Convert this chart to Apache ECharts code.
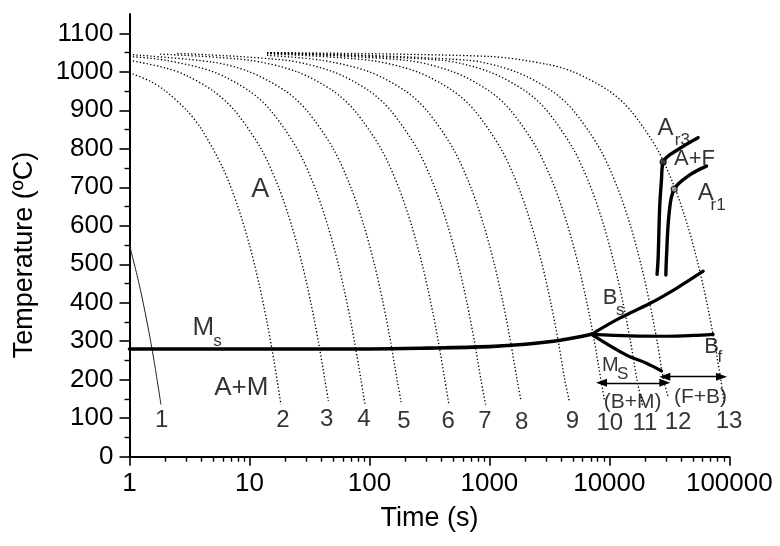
<!DOCTYPE html>
<html>
<head>
<meta charset="utf-8">
<script src="https://cdn.jsdelivr.net/npm/echarts@6/dist/echarts.min.js"></script>
<style>
html,body{margin:0;padding:0;background:#fff;}
#main{width:780px;height:546px;}
</style>
</head>
<body>
<div id="main"></div>
<script>
// ---------- data ----------
const xMajor = [1, 10, 100, 1000, 10000, 100000];
const xMinor = [2,3,4,5,6,7,8,9, 20,30,40,50,60,70,80,90, 200,300,400,500,600,700,800,900,
                2000,3000,4000,5000,6000,7000,8000,9000, 20000,30000,40000,50000,60000,70000,80000,90000];
const yMajor = [0,100,200,300,400,500,600,700,800,900,1000,1100];
const yMinor = [50,150,250,350,450,550,650,750,850,950,1050];

// cooling curves [time s, temperature °C]
const curve1  = [[1,550],[1.2,450],[1.4,350],[1.6,250],[1.83,135]];
const curve2  = [[1,998],[1.5,975],[2,950],[3,900],[4,850],[6,750],[8,650],[10,550],[12,450],[14,350],[16,250],[18.3,135]];
const curve3  = [[1,1030],[2,1010],[3,990],[5,950],[7.5,900],[12.5,800],[17.5,700],[22.5,600],[27.5,500],[32.5,400],[37.5,300],[42.5,200],[45.5,145]];
const curve4  = [[1,1040],[2,1030],[5,1000],[10,950],[15,900],[25,800],[35,700],[45,600],[55,500],[65,400],[75,300],[85,200],[92,135]];
const curve5  = [[1,1045],[5,1025],[10,1000],[20,950],[30,900],[50,800],[70,700],[90,600],[110,500],[130,400],[150,300],[170,200],[184,142]];
const curve6  = [[1.8,1046],[10,1030],[25,1000],[50,950],[75,900],[125,800],[175,700],[225,600],[275,500],[325,400],[375,300],[425,200],[458,139]];
const curve7  = [[2.5,1048],[20,1030],[50,1000],[100,950],[150,900],[250,800],[350,700],[450,600],[550,500],[650,400],[750,300],[850,200],[930,135]];
const curve8  = [[14,1043],[40,1030],[100,1000],[200,950],[300,900],[500,800],[700,700],[900,600],[1100,500],[1300,400],[1500,300],[1700,200],[1840,144]];
const curve9  = [[14,1047],[100,1030],[250,1000],[500,950],[750,900],[1250,800],[1750,700],[2250,600],[2750,500],[3250,400],[3750,300],[4250,200],[4650,144]];
const curve10 = [[14,1049],[200,1030],[500,1000],[1000,950],[1500,900],[2500,800],[3500,700],[4500,600],[5500,500],[6500,400],[7500,300],[8500,200],[9100,148]];
const curve11 = [[14,1049],[400,1030],[1000,1000],[2000,950],[3000,900],[5000,800],[7000,700],[9000,600],[11000,500],[13000,400],[15000,300],[17000,200],[19000,130]];
const curve12 = [[14,1050],[667,1030],[1667,1000],[3333,950],[5000,900],[8333,800],[11667,700],[15000,600],[18333,500],[21667,400],[25000,300],[28333,200],[30800,157]];
const curve13 = [[14,1050],[1000,1040],[3000,1020],[5000,1000],[10000,950],[15000,900],[25000,800],[35000,700],[45000,600],[55000,500],[65000,400],[75000,300],[85000,200],[90500,139]];

// transformation lines
const msUpper = [[1,280],[100,280],[300,282],[1000,286],[2000,292],[4000,303],[7100,318]];
const bsLine  = [[7100,318],[12200,360],[21700,398],[36000,437],[60600,482]];
const bfLine  = [[7100,318],[15000,314],[30000,313],[50000,315],[73300,318]];
const msLower = [[7100,318],[13900,264],[20400,243],[27200,223]];
const ar3Line = [[25000,474],[25500,515],[26300,650],[27200,719],[28100,766],[38700,801],[54900,829]];
const ar1Line = [[29600,472],[29900,515],[31500,632],[34700,695],[46800,732],[64600,755]];
const ar3Dot  = [[28100,766]];
const ar1Dot  = [[34700,695]];

// double arrows
const arrowBM = [[8600,192],[29000,192]];
const arrowFB = [[29000,208],[86100,208]];

// text labels [text, time, temperature]
const curveLabels = [['1',1.85,95],['2',19.0,95],['3',44,98],['4',90,98],['5',194,91],['6',454,91],['7',917,91],
                     ['8',1855,88],['9',4935,93],['10',10090,87],['11',19770,87],['12',37440,88],['13',99600,91]];
const labelsXL = [['A',12.3,694]];
const labelsL  = [['M',4.12,336],['A+M',8.55,178]];
const labelsM  = [['A',29450,853],['A',63500,684]];
const labelsS  = [['A+F',51300,773],['B',10160,412],['B',71100,284]];
const labelsP  = [['(B+M)',15600,142],['(F+B)',57600,154]];
const labelsMs = [['M',10190,238]];
const labelsSub = [['s',5.42,299],['r3',40600,821],['r1',80700,654],['s',12300,380],['f',83300,259],['S',12900,214]];

// ---------- chart ----------
const FONT = '"Liberation Sans", Arial, Helvetica, sans-serif';
const chart = echarts.init(document.getElementById('main'), null, {renderer: 'canvas'});

function cooling(data, solid) {
  return {
    type: 'line', data: data, symbol: 'none', smooth: 0.3, silent: true, z: 2,
    lineStyle: solid ? {color: '#222', width: 1, type: 'solid'} : {color: '#000', width: 1.35, type: [1.3, 2.2]}
  };
}
function thick(data, w) {
  return {type: 'line', data: data, symbol: 'none', smooth: 0.35, silent: true, z: 4,
          lineStyle: {color: '#000', width: w, cap: 'round'}};
}
function texts(list, size) {
  return {
    type: 'scatter', symbolSize: 0, silent: true, z: 6,
    data: list.map(d => ({name: d[0], value: [d[1], d[2]]})),
    label: {show: true, position: 'inside', formatter: p => p.name,
            fontSize: size, color: '#000', fontFamily: FONT}
  };
}
function arrow(pts) {
  return {
    type: 'line', data: [], silent: true, z: 5,
    markLine: {
      silent: true, animation: false,
      symbol: ['triangle', 'triangle'], symbolSize: [8, 11],
      label: {show: false},
      lineStyle: {color: '#000', width: 1.3, type: 'solid'},
      data: [[{coord: pts[0]}, {coord: pts[1]}]]
    }
  };
}

const axisCommon = {
  splitLine: {show: false}, axisPointer: {show: false}
};

chart.setOption({
  animation: false,
  backgroundColor: '#fff',
  grid: {left: 129.5, right: 50.7, top: 14.1, bottom: 89.3, containLabel: false},
  xAxis: [
    Object.assign({
      type: 'log', logBase: 10, min: 1, max: 100000, position: 'bottom',
      axisLine: {show: true, lineStyle: {color: '#000', width: 2}},
      axisTick: {show: true, customValues: xMajor, length: 9, lineStyle: {color: '#000', width: 1.6}},
      axisLabel: {customValues: xMajor, formatter: v => String(v), fontSize: 26, color: '#000',
                  margin: 14, fontFamily: FONT},
      name: 'Time (s)', nameLocation: 'middle', nameGap: 48,
      nameTextStyle: {fontSize: 27, color: '#000', fontFamily: FONT}
    }, axisCommon),
    Object.assign({
      type: 'log', logBase: 10, min: 1, max: 100000, position: 'bottom',
      axisLine: {show: false},
      axisTick: {show: true, customValues: xMinor, length: 5, lineStyle: {color: '#000', width: 1.4}},
      axisLabel: {show: false}
    }, axisCommon)
  ],
  yAxis: [
    Object.assign({
      type: 'value', min: 0, max: 1150, position: 'left',
      axisLine: {show: true, lineStyle: {color: '#000', width: 2}},
      axisTick: {show: true, customValues: yMajor, length: 10, lineStyle: {color: '#000', width: 1.6}},
      axisLabel: {customValues: yMajor, formatter: v => String(v), fontSize: 26, color: '#000',
                  margin: 16, fontFamily: FONT}
    }, axisCommon),
    Object.assign({
      type: 'value', min: 0, max: 1150, position: 'left',
      axisLine: {show: false},
      axisTick: {show: true, customValues: yMinor, length: 5, lineStyle: {color: '#000', width: 1.4}},
      axisLabel: {show: false}
    }, axisCommon)
  ],
  graphic: [{
    type: 'text', x: 25, y: 255, rotation: Math.PI / 2, silent: true,
    style: {text: 'Temperature (ºC)', fontSize: 27, fontFamily: FONT, fill: '#000',
            align: 'center', verticalAlign: 'middle'}
  }],
  series: [
    cooling(curve1, true), cooling(curve2), cooling(curve3), cooling(curve4), cooling(curve5),
    cooling(curve6), cooling(curve7), cooling(curve8), cooling(curve9), cooling(curve10),
    cooling(curve11), cooling(curve12), cooling(curve13),
    thick(msUpper, 3.6), thick(bsLine, 3.2), thick(bfLine, 3.2), thick(msLower, 3.2),
    thick(ar3Line, 3.4), thick(ar1Line, 3.4),
    {type: 'scatter', data: ar3Dot, symbol: 'circle', symbolSize: 6, silent: true, z: 7,
     itemStyle: {color: '#444', borderColor: '#000', borderWidth: 1.2}},
    {type: 'scatter', data: ar1Dot, symbol: 'circle', symbolSize: 6, silent: true, z: 7,
     itemStyle: {color: '#bbb', borderColor: '#000', borderWidth: 1.2}},
    arrow(arrowBM), arrow(arrowFB),
    texts(curveLabels, 24), texts(labelsXL, 27), texts(labelsL, 26), texts(labelsM, 24),
    texts(labelsS, 22), texts(labelsP, 21), texts(labelsMs, 20), texts(labelsSub, 17)
  ]
});
</script>
</body>
</html>
